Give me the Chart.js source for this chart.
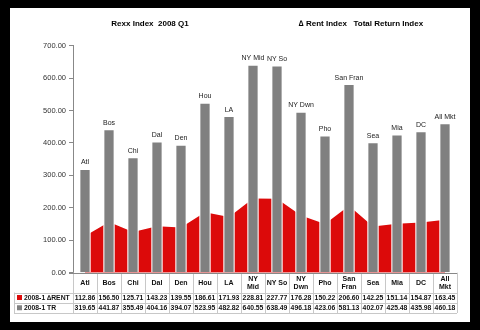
<!DOCTYPE html>
<html><head><meta charset="utf-8">
<script src="https://cdn.jsdelivr.net/npm/chart.js@4/dist/chart.umd.min.js"></script>
<style>html,body{margin:0;padding:0;background:#000;}canvas{display:block}</style>
</head><body>
<canvas id="c" width="480" height="330"></canvas>
<script>
const categories = ['Atl','Bos','Chi','Dal','Den','Hou','LA','NY Mid','NY So','NY Dwn','Pho','San Fran','Sea','Mia','DC','All Mkt'];
const tableLabels = [['Atl'],['Bos'],['Chi'],['Dal'],['Den'],['Hou'],['LA'],['NY','Mid'],['NY So'],['NY','Dwn'],['Pho'],['San','Fran'],['Sea'],['Mia'],['DC'],['All','Mkt']];
const rentValues = [112.86,156.50,125.71,143.23,139.55,186.61,171.93,228.81,227.77,176.28,150.22,206.60,142.25,151.14,154.87,163.45];
const trValues = [319.65,441.87,355.49,404.16,394.07,523.95,482.82,640.55,638.49,496.18,423.06,581.13,402.07,425.48,435.98,460.18];
const seriesNames = ['2008-1 \u2206RENT','2008-1 TR'];
const chartTitle = 'Rexx Index  2008 Q1';
const chartSubtitle = '\u2206 Rent Index   Total Return Index';
const yMin = 0, yMax = 700, yStep = 100;

const RED = '#dc0a0a', GRAY = '#808080';
const FONT = '"Liberation Sans", Arial, sans-serif';

const deco = {
  id: 'deco',
  beforeDraw(chart) {
    const ctx = chart.ctx;
    ctx.save();
    ctx.fillStyle = '#000';
    ctx.fillRect(0, 0, chart.width, chart.height);
    ctx.fillStyle = '#fff';
    ctx.fillRect(10, 8, 460, 314);
    ctx.restore();
  },
  afterDraw(chart) {
    const ctx = chart.ctx;
    const xs = chart.scales.x, ys = chart.scales.y;
    const ca = chart.chartArea;
    const n = categories.length;
    const w = (ca.right - ca.left) / n;
    ctx.save();
    // titles
    ctx.fillStyle = '#000';
    ctx.textBaseline = 'middle';
    ctx.textAlign = 'center';
    ctx.font = 'bold 8px ' + FONT;
    ctx.fillText(chartTitle, 150, 24);
    ctx.fillText(chartSubtitle, 361, 24);
    // labels above bars
    ctx.font = '7px ' + FONT;
    ctx.fillStyle = '#222';
    ctx.textBaseline = 'bottom';
    trValues.forEach((v, i) => {
      ctx.fillText(categories[i], xs.getPixelForValue(i), ys.getPixelForValue(v) - 3);
    });
    // table
    const y0 = ca.bottom, y1 = 292.5, y2 = 302.5, y3 = 313;
    const lx = 14;
    ctx.strokeStyle = '#c8c8c8';
    ctx.lineWidth = 1;
    ctx.beginPath();
    for (let k = 0; k <= n; k++) {
      const x = Math.round(ca.left + k * w) + 0.5;
      ctx.moveTo(x, y0); ctx.lineTo(x, y3);
    }
    ctx.moveTo(lx + 0.5, y1); ctx.lineTo(lx + 0.5, y3);
    [y1, y2, y3].forEach(y => { ctx.moveTo(lx, Math.round(y) + 0.5); ctx.lineTo(ca.right, Math.round(y) + 0.5); });
    ctx.stroke();
    ctx.strokeStyle = '#888';
    ctx.beginPath();
    ctx.moveTo(ca.left - 4, Math.round(y0) + 0.5); ctx.lineTo(ca.right, Math.round(y0) + 0.5);
    ctx.stroke();
    ctx.fillStyle = '#111';
    ctx.textAlign = 'center';
    ctx.textBaseline = 'middle';
    ctx.font = 'bold 7px ' + FONT;
    tableLabels.forEach((lines, i) => {
      const cx = xs.getPixelForValue(i);
      const mid = (y0 + y1) / 2;
      lines.forEach((t, j) => {
        ctx.fillText(t, cx, mid + (j - (lines.length - 1) / 2) * 8);
      });
    });
    ctx.font = 'bold 6.8px ' + FONT;
    const rows = [rentValues, trValues];
    const rowMid = [(y1 + y2) / 2, (y2 + y3) / 2];
    rows.forEach((vals, r) => {
      vals.forEach((v, i) => ctx.fillText(v.toFixed(2), xs.getPixelForValue(i), rowMid[r] + 0.5));
    });
    // legend keys
    const keyColors = [RED, GRAY];
    ctx.textAlign = 'left';
    seriesNames.forEach((s, r) => {
      ctx.fillStyle = keyColors[r];
      ctx.fillRect(17, rowMid[r] - 2.5, 5, 5);
      ctx.fillStyle = '#111';
      ctx.fillText(s, 24, rowMid[r] + 0.5);
    });
    ctx.restore();
  }
};

new Chart(document.getElementById('c'), {
  type: 'bar',
  data: {
    labels: categories,
    datasets: [
      { type: 'bar', label: seriesNames[1], data: trValues, backgroundColor: GRAY, borderColor: '#fff', borderWidth: 1.2, barThickness: 11, order: 0 },
      { type: 'line', label: seriesNames[0], data: rentValues, backgroundColor: RED, borderWidth: 0, pointRadius: 0, fill: 'origin', tension: 0, order: 1 }
    ]
  },
  options: {
    responsive: false,
    animation: false,
    devicePixelRatio: 1,
    layout: { padding: { left: 23, right: 23, top: 45.7, bottom: 57.3 } },
    plugins: { legend: { display: false }, tooltip: { enabled: false } },
    scales: {
      x: { display: false, offset: true },
      y: {
        min: yMin, max: yMax,
        ticks: { stepSize: yStep, color: '#333', font: { family: FONT, size: 7.5 }, padding: 3, callback: v => Number(v).toFixed(2) },
        grid: { drawOnChartArea: false, drawTicks: true, tickLength: 4, color: '#888' },
        border: { display: true, color: '#888' },
        afterFit(scale) { scale.width = 50; }
      }
    }
  },
  plugins: [deco]
});
</script>
</body></html>
